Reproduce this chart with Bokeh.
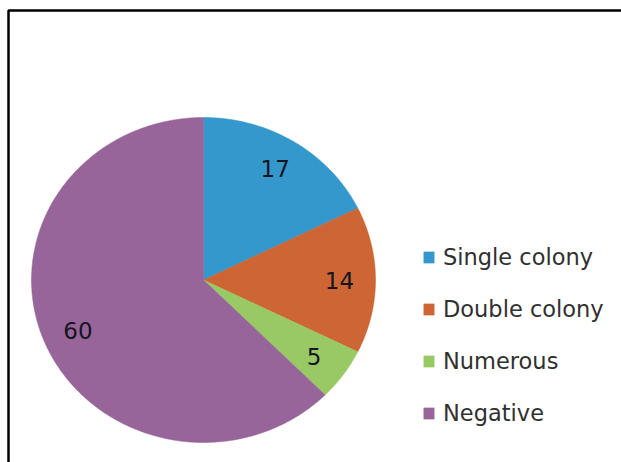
import numpy as np
from bokeh.plotting import figure
from bokeh.models import Range1d, Legend, LegendItem, BoxAnnotation, ColumnDataSource
from bokeh.core.properties import value
from bokeh.embed import file_html
from bokeh.resources import INLINE

# ---- data ----
categories = ["Single colony", "Double colony", "Numerous", "Negative"]
counts = [17, 14, 5, 60]
slice_colors = ["#3498CD", "#CD6534", "#98C964", "#97659A"]

# ---- layout (pixels) ----
W, H = 621, 462
CX, CY = 203, H - 279.5
RX, RY = 172, 162.5

p = figure(width=W, height=H, x_range=Range1d(0, W), y_range=Range1d(0, H),
           output_backend="svg", toolbar_location=None, min_border=0)
p.axis.visible = False
p.grid.visible = False
p.outline_line_color = None
p.background_fill_color = "white"

total = float(sum(counts))
cum = np.concatenate([[0], np.cumsum(counts)]) / total * 2 * np.pi

items = []
lx, ly, ltxt = [], [], []
for i, cat in enumerate(categories):
    a0, a1 = cum[i], cum[i + 1]
    n = max(8, int((a1 - a0) / (2 * np.pi) * 400))
    th = np.linspace(a0, a1, n)
    xs = np.concatenate([[CX], CX + RX * np.sin(th)])
    ys = np.concatenate([[CY], CY + RY * np.cos(th)])
    r = p.patch(xs, ys, fill_color=slice_colors[i], line_color=slice_colors[i], line_width=0.5)
    items.append(LegendItem(label=cat, renderers=[r]))
    mid = (a0 + a1) / 2
    lx.append(CX + 0.79 * RX * np.sin(mid))
    ly.append(CY + 0.81 * RY * np.cos(mid))
    ltxt.append(str(counts[i]))

src = ColumnDataSource(dict(x=lx, y=ly, t=ltxt))
p.text(x="x", y="y", text="t", source=src, text_align="center", text_baseline="middle",
       text_font=value("DejaVu Sans"), text_font_size="23px", text_color="#15151F")

frame = BoxAnnotation(left=8, right=W + 60, bottom=-60, top=H - 10,
                      fill_alpha=0, line_color="black", line_alpha=1.0, line_width=2.5)
p.add_layout(frame)

legend = Legend(items=items, location=(422, 35), padding=0, margin=0,
                border_line_color=None, background_fill_alpha=0,
                glyph_width=13, glyph_height=14, label_standoff=8,
                label_height=28, spacing=24,
                label_text_font="DejaVu Sans", label_text_font_size="22.5px",
                label_text_color="#303030")
p.add_layout(legend)

open("out.html", "w").write(file_html(p, INLINE))
